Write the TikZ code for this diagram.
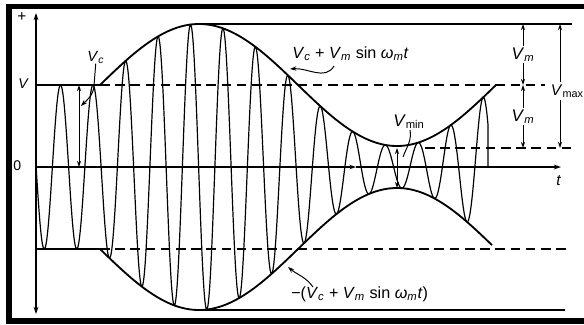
\documentclass[tikz,border=0pt]{standalone}
\usepackage{fontspec}
\setmainfont{Liberation Sans}
\usetikzlibrary{arrows.meta}
\newcommand{\Vsub}[1]{\textit{V}\textsubscript{#1}}

\begin{document}
\begin{tikzpicture}[x=0.025cm,y=-0.025cm,
    lbl/.style={inner sep=0pt,anchor=base west},
    dimlbl/.style={fill=white,inner sep=1pt,font=\fontsize{12}{14}\selectfont},
    wave/.style={line width=0.85pt},
    env/.style={line width=1.3pt},
    lvl/.style={line width=0.85pt},
    dashlvl/.style={line width=0.85pt,dash pattern=on 2.4mm off 1.4mm},
    tip/.style={line width=0.7pt,-{Stealth[length=1.6mm,width=1.1mm]}},
    dim/.style={line width=0.7pt,{Stealth[length=1.5mm,width=1mm]}-{Stealth[length=1.5mm,width=1mm]}}]
  \useasboundingbox (0,0) rectangle (584,324);
  \clip (0,0) rectangle (584,324);
  % border of the scan
  \fill (6,4) rectangle (584,9);
  \fill (6,4) rectangle (12,324);
  \fill (6,318) rectangle (584,324);
  % axes
  \coordinate (yTop) at (36,13);
  \coordinate (yBot) at (36,314);
  \coordinate (tOrg) at (36,167);
  \coordinate (tMid) at (356,167);
  \coordinate (tEnd) at (561,167);
  \draw[lvl,-{Stealth[length=1.8mm,width=1.2mm]}] (tOrg) -- (yTop);
  \draw[lvl,-{Stealth[length=1.8mm,width=1.2mm]}] (tOrg) -- (yBot);
  \draw[lvl,-{Stealth[length=1.6mm,width=1.1mm]}] (tOrg) -- (tMid);
  \draw[lvl,-{Stealth[length=1.8mm,width=1.2mm]}] (tMid) -- (tEnd);
  % levels
  \coordinate (vA) at (36,85);
  \coordinate (vB) at (100,85);
  \coordinate (vC) at (545,85);
  \coordinate (nA) at (36,249);
  \coordinate (nB) at (100,249);
  \coordinate (nC) at (567,249);
  \coordinate (mxA) at (199,24);
  \coordinate (mxB) at (572,24);
  \coordinate (mnA) at (425,148);
  \coordinate (mnB) at (577,148);
  \coordinate (loA) at (199,310);
  \coordinate (loB) at (565,310);
  \draw[lvl] (vA) -- (vB);
  \draw[dashlvl] (vB) -- (vC);
  \draw[lvl] (nA) -- (nB);
  \draw[dashlvl] (nB) -- (nC);
  \draw[lvl] (mxA) -- (mxB);
  \draw[dashlvl] (mnA) -- (mnB);
  \draw[lvl] (loA) -- (loB);
  % envelopes
  \draw[env] plot[domain=100:496,samples=200] (\x,{85-61*sin((\x-100)*0.90909)});
  \draw[env] plot[domain=100:492,samples=200] (\x,{249+61*sin((\x-100)*0.90909)});
  % modulated carrier
  \draw[wave] plot[domain=36:100,samples=140] (\x,{167-82*cos((\x-60.5)*11.0769)})
    -- plot[domain=100:488,samples=820] (\x,{167-(82+61*sin((\x-100)*0.90909))*cos((\x-60.5)*11.0769)})
    -- (488,167);
  % labels
  \node[lbl,font=\fontsize{11}{12}\selectfont] (plus) at (17,21) {+};
  \node[lbl,font=\fontsize{10}{12}\selectfont] (lV) at (18,88) {\textit{V}};
  \node[lbl,font=\fontsize{10}{12}\selectfont] (lO) at (13,170) {0};
  \node[lbl,font=\fontsize{11}{13}\selectfont] (lT) at (556,185) {\textit{t}};
  \node[lbl,font=\fontsize{10.5}{12}\selectfont] (lVc) at (87,61) {\Vsub{\textit{c}}};
  \node[lbl,font=\fontsize{11.5}{13}\selectfont] (lUp) at (292,58)
    {\Vsub{\textit{c}} + \Vsub{\textit{m}} sin \textit{ω}\textsubscript{\textit{m}}\textit{t}};
  \node[lbl,font=\fontsize{11.5}{13}\selectfont] (lLo) at (291,298)
    {−(\Vsub{\textit{c}} + \Vsub{\textit{m}} sin \textit{ω}\textsubscript{\textit{m}}\textit{t})};
  \node[lbl,font=\fontsize{12}{14}\selectfont] (lMin) at (393,126) {\Vsub{min}};
  % amplitude arrows
  \coordinate (aTop) at (79,85);
  \coordinate (aBot) at (79,167);
  \draw[dim] (aTop) -- (aBot);
  \coordinate (mTop) at (397,148);
  \coordinate (mBot) at (397,188);
  \draw[dim] (mTop) -- (mBot);
  % pointers
  \coordinate (vcBend) at (94,86);
  \coordinate (vcTip) at (81,106);
  \draw[tip] (lVc.south) -- (vcBend) to[out=-95,in=45] (vcTip);
  \coordinate (upFrom) at (334,66);
  \coordinate (upTip) at (290,69);
  \draw[tip] (upFrom) to[out=-120,in=5] (upTip);
  \coordinate (loFrom) at (313,287);
  \coordinate (loTip) at (288,267);
  \draw[tip] (loFrom) to[out=125,in=-40] (loTip);
  \coordinate (mnFrom) at (410,130);
  \coordinate (mnTo) at (403,157);
  \draw[line width=0.7pt] (mnFrom) to[out=-80,in=70] (mnTo);
  % dimensions on the right
  \coordinate (dA) at (523,24);
  \coordinate (dB) at (523,85);
  \coordinate (dC) at (523,148);
  \coordinate (dD) at (560,24);
  \coordinate (dE) at (560,148);
  \draw[dim] (dA) -- (dB) node[midway,dimlbl] (lVm1) {\Vsub{\textit{m}}};
  \draw[dim] (dB) -- (dC) node[midway,dimlbl] (lVm2) {\Vsub{\textit{m}}};
  \draw[dim] (dD) -- (dE);
  \node[lbl,fill=white,inner ysep=2pt,inner xsep=0.5pt,font=\fontsize{11}{13}\selectfont] (lMax) at (550,95) {\Vsub{max}};
\end{tikzpicture}
\end{document}
